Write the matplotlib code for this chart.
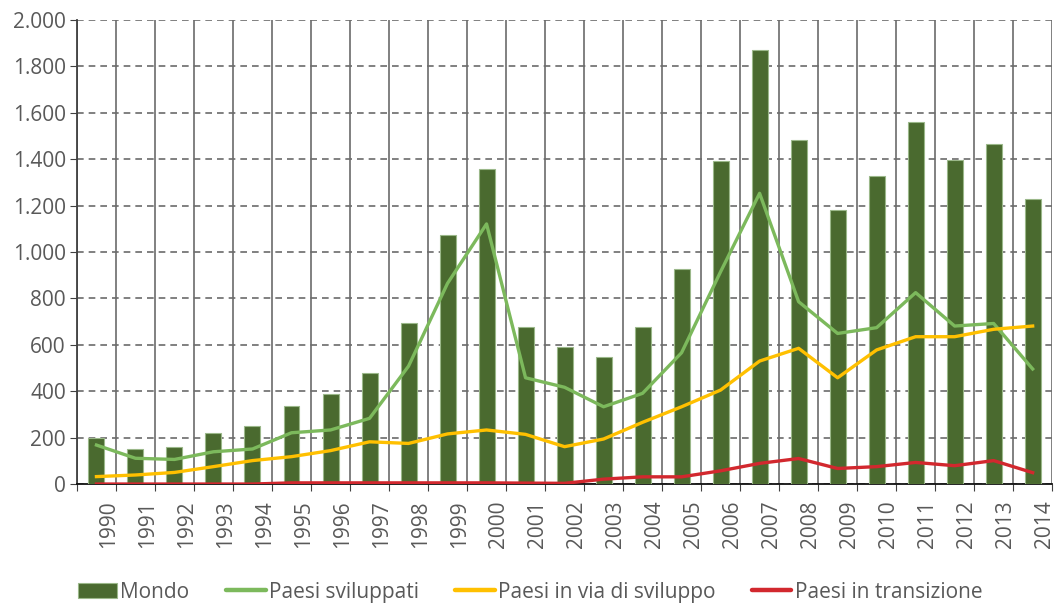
import numpy as np
import matplotlib
matplotlib.use('Agg')
import matplotlib.pyplot as plt
import matplotlib.transforms as mtransforms
from matplotlib.ticker import FuncFormatter

plt.rcParams['font.family'] = ['Open Sans', 'DejaVu Sans']

years = [str(y) for y in range(1990, 2015)]
mondo = [200, 150, 161, 218, 250, 337, 388, 478, 692, 1075, 1358, 678, 590, 546,
         678, 925, 1391, 1869, 1484, 1183, 1328, 1560, 1398, 1466, 1227]
sviluppati = [168, 111, 106, 139, 151, 221, 233, 283, 508, 865, 1121, 458, 417, 333,
              391, 566, 915, 1253, 786, 649, 674, 825, 681, 692, 496]
in_sviluppo = [32, 39, 50, 75, 101, 118, 144, 182, 175, 216, 233, 214, 161, 194,
               266, 333, 405, 530, 585, 458, 578, 635, 635, 667, 681]
transizione = [0, 0, 0, 0, 0, 5, 5, 5, 5, 5, 5, 4, 3, 21,
               31, 31, 57, 89, 110, 67, 75, 93, 79, 101, 49]

text_col = '#595959'
grid_col = '#6b6b6b'
fs = 15

fig = plt.figure(figsize=(10.6, 6.03), dpi=100)
ax = fig.add_axes([0.0726, 0.1973, 0.92, 0.7695])

x = np.arange(len(years))
bars = ax.bar(x, mondo, width=0.41, color='#4a6a2f', edgecolor='#9bb88a', linewidth=0.8,
              label='Mondo', zorder=3)
l1, = ax.plot(x, sviluppati, color='#7cb95c', lw=2.4, label='Paesi sviluppati', zorder=4)
l2, = ax.plot(x, in_sviluppo, color='#ffc000', lw=2.4, label='Paesi in via di sviluppo', zorder=4)
l3, = ax.plot(x, transizione, color='#d2282e', lw=2.4, label='Paesi in transizione', zorder=4)

ax.set_xlim(-0.5, len(years) - 0.5)
ax.set_ylim(0, 2000)
ax.set_yticks(range(0, 2001, 200))
ax.yaxis.set_major_formatter(FuncFormatter(lambda v, p: f'{int(v):,}'.replace(',', '.')))

# boundaries as major ticks (grid), year labels as minor ticks at centres
ax.set_xticks(np.arange(len(years) + 1) - 0.5)
ax.set_xticklabels([])
ax.set_xticks(x, minor=True)
ax.set_xticklabels(years, minor=True, rotation=90, fontsize=fs, color=text_col)
ax.tick_params(axis='x', which='minor', length=0, pad=12)
ax.tick_params(axis='x', which='major', length=5, direction='out', color='#404040')
ax.tick_params(axis='y', length=5, direction='out', color='#404040',
               labelsize=fs, labelcolor=text_col, pad=3)
offset = mtransforms.ScaledTranslation(12 / 100, 0, fig.dpi_scale_trans)
for lab in ax.get_xticklabels(minor=True):
    lab.set_transform(lab.get_transform() + offset)

ax.grid(axis='x', which='major', color=grid_col, lw=1.2, ls='-', zorder=0)
ax.grid(axis='y', color=grid_col, lw=1.2, ls=(0, (4, 3)), zorder=0)
ax.set_axisbelow(True)

for s in ['top', 'right']:
    ax.spines[s].set_visible(False)
ax.spines['left'].set_color('#404040')
ax.spines['left'].set_linewidth(1.3)
ax.spines['bottom'].set_color('#111111')
ax.spines['bottom'].set_linewidth(1.3)

leg = fig.legend([bars, l1, l2, l3],
                 ['Mondo', 'Paesi sviluppati', 'Paesi in via di sviluppo', 'Paesi in transizione'],
                 loc='center', bbox_to_anchor=(0.5, 0.018), ncol=4, frameon=False,
                 fontsize=fs, labelcolor=text_col, handlelength=1.9, handleheight=0.75,
                 handletextpad=0.15, columnspacing=1.75)
for h in leg.get_lines():
    h.set_linewidth(3.2)
    h.set_solid_capstyle('round')

fig.savefig('out.png', dpi=100)
